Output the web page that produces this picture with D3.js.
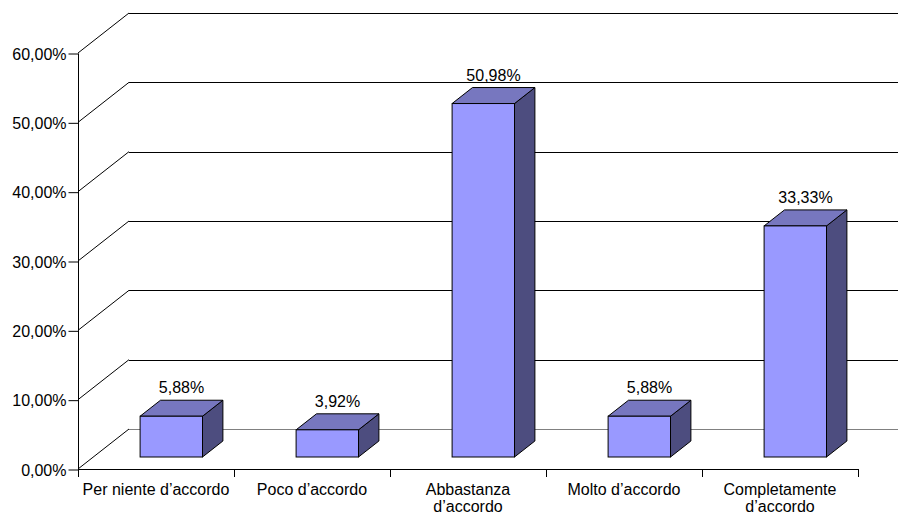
<!DOCTYPE html>
<html>
<head>
<meta charset="utf-8">
<script src="https://cdn.jsdelivr.net/npm/d3@7"></script>
<style>
  html, body { margin: 0; padding: 0; background: #fff; }
  svg text { font-family: "Liberation Sans", Arial, sans-serif; font-size: 16px; fill: #000; }
</style>
</head>
<body>
<svg id="chart" width="898" height="516"></svg>
<script>
// Survey answers and their share of respondents (%)
const categories = [
  ["Per niente d’accordo"],
  ["Poco d’accordo"],
  ["Abbastanza", "d’accordo"],
  ["Molto d’accordo"],
  ["Completamente", "d’accordo"]
];
const values = [5.88, 3.92, 50.98, 5.88, 33.33];
const yTicks = [0, 10, 20, 30, 40, 50, 60];

const svg = d3.select("#chart");

// Italian number format: comma as decimal separator
const it = d3.formatLocale({ decimal: ",", thousands: ".", grouping: [3], currency: ["", " €"] });
const pct = v => it.format(".2f")(v) + "%";

// Plot frame (front plane) and oblique depth of the 3D box
const plotL = 78, plotR = 858, plotB = 469, plotT = 53;
const depthX = 51, depthY = -40;
const proj = (px, py, z) => [px + z * depthX, py + z * depthY];

const x = d3.scaleBand().domain(d3.range(categories.length)).range([plotL, plotR]).paddingInner(0).paddingOuter(0);
const y = d3.scaleLinear().domain([0, 60]).range([plotB, plotT]);

// Back wall gridlines and side-wall diagonals
const grid = svg.append("g");
yTicks.forEach(t => {
  const [bx, by] = proj(plotL, y(t), 1);
  grid.append("line")
    .attr("x1", plotL).attr("y1", y(t))
    .attr("x2", bx).attr("y2", by)
    .attr("stroke", "#000").attr("stroke-width", 1);
  grid.append("line")
    .attr("x1", bx).attr("y1", Math.round(by) + 0.5)
    .attr("x2", proj(plotR, 0, 1)[0]).attr("y2", Math.round(by) + 0.5)
    .attr("stroke", t === 0 ? "#808080" : "#000").attr("stroke-width", 1);
});

// Bars as extruded boxes between depths z0 and z1
const z0 = 0.3, z1 = 0.7;
const barW = x.bandwidth() * 0.4;
const faceFront = "#9999ff", faceTop = "#7777bf", faceSide = "#4d4d7f";

const bars = svg.append("g");
values.forEach((v, i) => {
  const cx = x(i) + x.bandwidth() / 2;
  const xl = cx - barW / 2, xr = cx + barW / 2;
  const [fl, ft] = proj(xl, y(v), z0);
  const [fr, fb] = proj(xr, y(0), z0);
  const [bl, bt] = proj(xl, y(v), z1);
  const [br, bb] = proj(xr, y(0), z1);
  const g = bars.append("g").attr("stroke", "#000").attr("stroke-width", 1).attr("stroke-linejoin", "miter");
  g.append("polygon")
    .attr("points", [[fr, ft], [br, bt], [br, bb], [fr, fb]].join(" "))
    .attr("fill", faceSide);
  g.append("polygon")
    .attr("points", [[fl, ft], [fr, ft], [br, bt], [bl, bt]].join(" "))
    .attr("fill", faceTop);
  g.append("rect")
    .attr("x", fl).attr("y", ft)
    .attr("width", fr - fl).attr("height", fb - ft)
    .attr("fill", faceFront);
  // value label above the top face
  svg.append("text")
    .attr("x", (fl + br) / 2)
    .attr("y", bt - 7)
    .attr("text-anchor", "middle")
    .text(pct(v));
});

// Front value axis
const yAxis = d3.axisLeft(y).tickValues(yTicks).tickSize(10).tickPadding(2).tickFormat(pct);
const ag = svg.append("g").attr("transform", `translate(${plotL + 0.5},0.5)`).call(yAxis);
ag.select(".domain").attr("stroke", "#000").attr("d", `M0,${plotT}V${plotB}`);
ag.selectAll(".tick line").attr("stroke", "#000");
ag.selectAll(".tick text")
  .attr("font-family", "Liberation Sans, Arial, sans-serif")
  .attr("font-size", 16).attr("fill", "#000").attr("dy", "0.36em");

// Front category axis with ticks at the category boundaries
const xg = svg.append("g");
xg.append("line")
  .attr("x1", plotL).attr("y1", plotB + 0.5).attr("x2", plotR).attr("y2", plotB + 0.5)
  .attr("stroke", "#000");
d3.range(categories.length + 1).forEach(i => {
  const bx = Math.round(plotL + i * x.bandwidth()) + 0.5;
  xg.append("line")
    .attr("x1", bx).attr("y1", plotB).attr("x2", bx).attr("y2", plotB + 8)
    .attr("stroke", "#000");
});
categories.forEach((lines, i) => {
  const cx = x(i) + x.bandwidth() / 2;
  const t = xg.append("text")
    .attr("x", cx)
    .attr("y", 495)
    .attr("text-anchor", "middle");
  lines.forEach((ln, k) => {
    t.append("tspan").attr("x", cx).attr("dy", k === 0 ? 0 : 17).text(ln);
  });
});
</script>
</body>
</html>
